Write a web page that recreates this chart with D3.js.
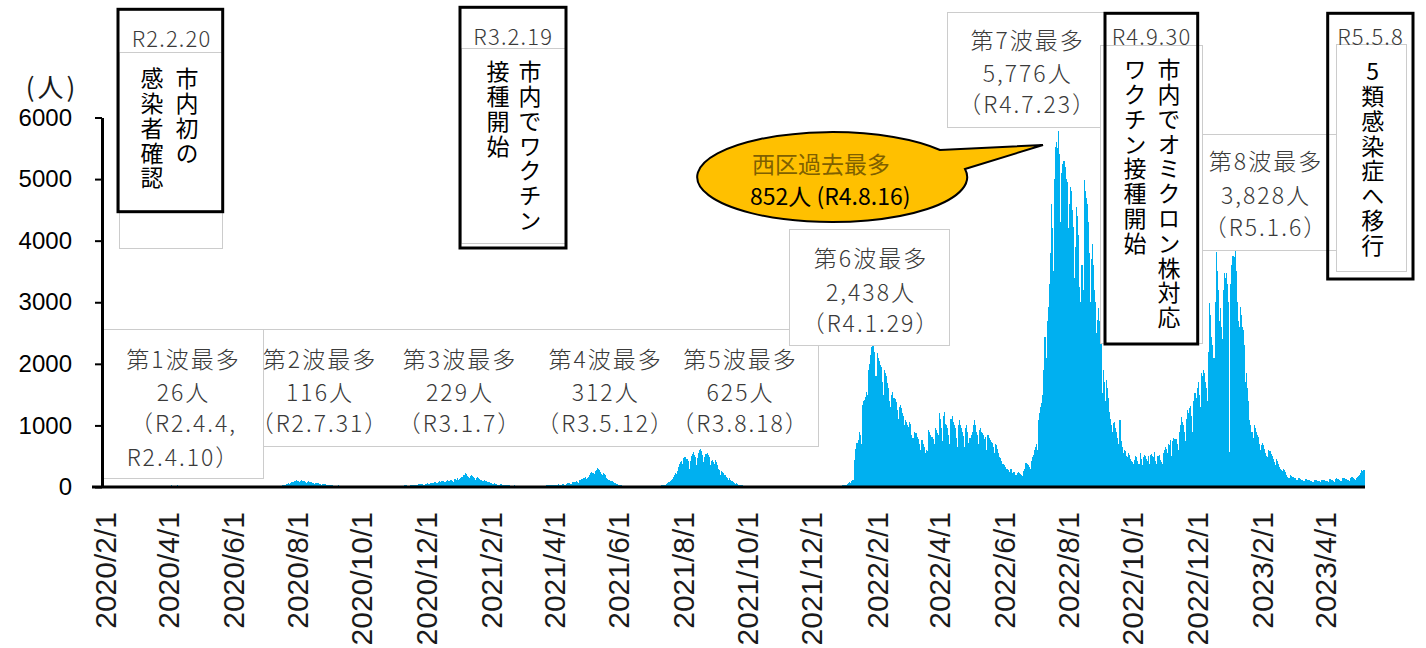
<!DOCTYPE html>
<html>

<head>
    <meta charset="utf-8">
    <style>
        body {
            margin: 0;
            background: #fff;
        }

        svg {
            display: block;
            font-family: 'Noto Sans CJK JP', 'Noto Sans', sans-serif;
        }

        .y .domain {
            stroke: #000;
            stroke-width: 3px;
        }

        .y .tick line {
            stroke: #000;
            stroke-width: 2px;
        }

        .y .tick text {
            font-family: 'Liberation Sans', Arial, sans-serif;
            font-size: 24px;
            fill: #000;
        }

        .x .domain {
            display: none;
        }

        .x .tick text {
            font-family: 'Liberation Sans', Arial, sans-serif;
            font-size: 30px;
            fill: #1a1a1a;
        }

        .wave text {
            font-size: 23px;
            font-weight: 300;
            fill: #3a3a3a;
            letter-spacing: 2px;
        }

        .event-date {
            font-size: 22px;
            font-weight: 300;
            fill: #3a3a3a;
            letter-spacing: 1.2px;
        }

        .event-col {
            font-size: 23px;
            fill: #000;
            writing-mode: vertical-rl;
            text-orientation: upright;
            letter-spacing: 1.8px;
        }
    </style>
</head>

<body>
    <svg width="1426" height="648"></svg>

    <script src="https://cdn.jsdelivr.net/npm/d3@7/dist/d3.min.js"></script>
    <script>
        // daily new cases, one array per year (each starts on its own first day)
        const daily2020 = [ // from 2020/2/1
            0,0,0,0,0,0,0,0,0,0, 0,0,0,0,0,0,0,0,0,1, 0,1,0,0,1,0,2,1,0,
            1,0,2,3,1,2,0,1,3,2, 1,0,2,4,3,1,2,5,3,2, 4,6,3,5,8,7,10,12,9,15, 14,
            18,20,22,26,15,20,24,19,22,26, 18,14,16,20,15,12,14,10,8,11, 9,7,6,8,5,4,6,3,2,4,
            3,2,1,2,0,1,1,0,2,1, 0,0,1,0,0,0,1,0,0,0, 0,1,0,0,0,0,1,0,2,1, 0,
            0,1,0,0,1,0,0,0,2,0, 1,0,0,0,1,0,0,2,1,0, 1,0,2,1,3,2,4,3,5,4,
            6,5,8,4,7,9,6,10,8,12, 9,11,15,14,18,22,20,26,30,28, 35,45,50,60,55,70,80,85,95,105, 116,
            100,90,85,95,110,105,98,92,80,70, 85,90,88,75,70,65,55,60,70,65, 58,50,45,40,52,55,48,42,38,35, 30,
            28,30,25,22,20,18,15,22,25,20, 18,15,12,14,18,20,16,13,10,9, 12,10,8,11,14,12,10,9,8,11,
            10,12,9,8,7,11,13,10,9,8, 6,10,12,14,11,9,8,7,12,15, 13,11,10,9,12,14,16,13,12,11, 10,
            12,10,14,18,20,16,15,13,17,22, 25,28,24,20,18,26,30,35,32,28, 25,30,40,48,55,50,45,42,38,50,
            55,60,48,52,65,70,58,62,75,80, 70,68,85,90,78,95,100,88,80,105, 110,95,90,120,115,100,85,130,125,110, 140
        ];
        const daily2021 = [
            120,135,150,170,190,200,229,210,185,160, 140,175,195,180,165,150,120,145,160,140, 125,110,95,105,120,100,90,80,85,75, 65,
            60,55,50,58,52,45,40,38,42,45, 40,35,30,28,25,30,32,28,24,20, 18,22,25,20,18,16,15,14,
            15,18,20,16,14,12,10,15,17,14, 12,18,20,16,13,15,18,22,20,17, 15,20,24,22,26,30,28,25,32,35, 30,
            35,30,28,40,45,38,32,36,42,48, 40,35,55,60,58,62,55,50,75,80, 85,90,78,70,110,120,130,125,140,150,
            155,130,145,170,200,220,240,230,210,260, 280,312,295,270,250,215,200,230,210,190, 150,130,110,120,100,90,80,65,60,55, 45,
            40,35,30,25,22,18,15,20,18,14, 12,10,9,12,14,11,8,7,10,12, 9,8,11,10,9,7,8,12,10,9,
            10,12,15,11,9,14,18,16,20,22, 18,25,30,35,32,40,45,60,80,95, 110,130,160,200,230,210,260,320,380,400, 420,
            380,470,490,480,450,420,300,430,500,540, 572,520,480,360,470,560,600,625,580,520, 400,480,530,550,520,480,360,420,440,410, 380,
            440,400,350,300,280,200,260,240,220,190, 170,150,110,140,120,100,90,80,65,55, 60,50,40,35,30,28,25,20,18,15,
            12,10,8,6,9,7,5,6,4,3, 5,6,4,3,2,4,5,3,2,3, 4,2,1,3,2,1,2,3,1,2, 1,
            1,0,2,1,0,1,2,0,1,0, 1,0,0,1,2,0,1,0,1,0, 0,1,0,0,1,2,0,1,0,1,
            1,0,2,1,0,3,1,2,0,1, 2,1,0,3,2,1,4,2,3,5, 2,4,6,5,8,10,12,15,20,28, 35
        ];
        const daily2022 = [
            25,30,35,50,60,80,70,90,110,113, 440,620,708,760,900,850,700,1330,1400,1420, 1465,1550,1500,1900,2000,2150,2275,2300,2438,2200, 1800,
            2180,2100,2050,1980,1950,1700,1500,1900,1850,1800, 1690,1600,1400,1300,1500,1550,1450,1430,1380,1250, 1100,1300,1330,1280,1200,1150,1000,1086,
            1050,1000,980,1060,1020,850,800,900,880,870, 820,780,700,600,760,762,700,650,546,600, 580,924,900,850,820,780,700,951,920,880, 850,
            1200,1100,950,750,1150,1220,1030,1000,950,850, 700,1100,1150,1050,1005,950,800,650,1000,1080, 1000,950,900,830,650,950,1000,900,708,800,
            850,900,1000,1086,1000,900,850,700,924,950, 900,880,850,780,816,600,850,800,760,730, 708,650,550,700,680,620,560,492,470,420, 380,
            380,350,330,300,280,250,300,290,222,250, 240,200,190,230,240,222,210,200,180,260, 300,384,370,350,330,300,420,492,520,600,
            650,700,600,1086,1200,1300,1357,1500,1900,2437, 2100,2700,2924,3300,3800,4600,4200,3500,5000,5520, 5600,5500,5776,5400,4300,5100,5248,5300,5200,5000, 4950,
            4200,4600,4870,4800,4500,4221,3400,3900,4545,4400, 4100,3248,3000,3600,3200,4978,4800,4700,4600,4300, 3800,3000,3700,3951,3600,3200,3000,2500,2708,2900, 2700,
            2500,1520,1900,1700,1400,1735,1600,1450,1220,1100, 1000,900,1035,1050,950,900,800,700,1090,750, 650,550,600,580,500,480,550,520,450,430,
            400,380,440,500,480,420,380,550,450,360, 480,520,500,450,420,500,380,520,540,500, 480,570,420,380,500,520,440,400,380,550, 600,
            650,620,550,700,680,760,500,750,800,780, 780,700,600,900,1000,1140,1050,1000,900,750, 1100,1250,1200,1280,1310,1150,900,1400,1520,1450,
            1600,1700,1500,1300,1850,1800,1900,1850,1700,1600, 1400,2200,2980,2800,2440,2300,2100,3000,3815,3500, 3200,2700,2900,2600,2400,3200,3470,3400,3470,3300, 3000
        ];
        const daily2023 = [ // to 2023/5/8
            570,3300,3600,3750,3740,3828,3500,3000,2700,2600, 2920,2800,2600,2545,2300,1700,1850,1600,1400,1090, 1000,900,800,1000,950,900,850,815,700,600, 680,
            710,680,620,560,500,490,600,580,540,500, 450,400,350,460,430,380,330,300,275,260, 300,280,240,200,165,150,190,180,
            170,160,150,140,120,110,150,145,130,120, 110,100,90,130,125,115,110,100,95,85, 80,120,115,110,105,100,90,80,110,120, 115,
            110,100,90,80,125,130,120,110,95,85, 130,140,135,125,115,105,90,140,150,145, 135,120,110,95,150,160,155,140,130,120,
            150,170,180,200,230,275,260,280
        ];
        const seriesStarts = ["2020-02-01", "2021-01-01", "2022-01-01", "2023-01-01"];
        const seriesValues = [daily2020, daily2021, daily2022, daily2023];

        const yTicks = [0, 1000, 2000, 3000, 4000, 5000, 6000];
        const xTickLabels = ["2020/2/1", "2020/4/1", "2020/6/1", "2020/8/1", "2020/10/1", "2020/12/1",
            "2021/2/1", "2021/4/1", "2021/6/1", "2021/8/1", "2021/10/1", "2021/12/1",
            "2022/2/1", "2022/4/1", "2022/6/1", "2022/8/1", "2022/10/1", "2022/12/1",
            "2023/2/1", "2023/4/1"];

        const waveLines = [
            ["第1波最多", "26人", "（R2.4.4,", "R2.4.10）"],
            ["第2波最多", "116人", "（R2.7.31）"],
            ["第3波最多", "229人", "（R3.1.7）"],
            ["第4波最多", "312人", "（R3.5.12）"],
            ["第5波最多", "625人", "（R3.8.18）"],
            ["第6波最多", "2,438人", "（R4.1.29）"],
            ["第7波最多", "5,776人", "（R4.7.23）"],
            ["第8波最多", "3,828人", "（R5.1.6）"]
        ];
        const eventDates = ["R2.2.20", "R3.2.19", "R4.9.30", "R5.5.8"];
        const eventTexts = [
            ["市内初の", "感染者確認"],
            ["市内でワクチン", "接種開始"],
            ["市内でオミクロン株対応", "ワクチン接種開始"],
            ["5類感染症へ移行"]
        ];
        const calloutLines = ["西区過去最多", "852人 (R4.8.16)"];
        const yTitle = "(人)";

        // ---------- setup
        let svg = d3.select("svg");
        let fmt = d3.timeFormat("%Y/%-m/%-d");
        let parse = d3.timeParse("%Y-%m-%d");

        let rows = [];
        seriesValues.forEach(function (vals, s) {
            let start = parse(seriesStarts[s]);
            vals.forEach(function (v, i) {
                rows.push({ key: fmt(d3.timeDay.offset(start, i)), value: v });
            });
        });

        let firstDay = parse("2020-02-01");
        let lastDay = parse("2023-05-08");
        let allDays = d3.timeDay.range(firstDay, d3.timeDay.offset(lastDay, 1)).map(fmt);

        let x = d3.scaleBand()
            .domain(allDays)
            .range([104.5, 1364.5])
            .padding(0);

        let y = d3.scaleLinear()
            .domain([0, 6000])
            .range([487, 117.5]);

        // bars
        svg.append("g")
            .selectAll("rect")
            .data(rows.filter(d => x(d.key) !== undefined))
            .join("rect")
            .attr("x", d => x(d.key))
            .attr("width", x.bandwidth())
            .attr("y", d => y(d.value))
            .attr("height", d => y(0) - y(d.value))
            .attr("fill", "#00b0f0")
            .attr("shape-rendering", "crispEdges");

        // ---------- white text boxes (gray border)
        let grayBoxes = [
            [103, 329, 818, 446],   // waves 1-5
            [103, 329, 263, 478],   // wave 1 (taller)
            [789, 229, 949, 345],   // wave 6
            [947, 12, 1105, 127],   // wave 7
            [1202, 134, 1336, 250], // wave 8
            [119, 52, 222, 248],    // event 1 text
            [461, 48, 565, 243],    // event 2 text
            [1100, 45, 1202, 343],  // event 3 text
            [1336, 44, 1406, 271]   // event 4 text
        ];
        svg.append("g")
            .selectAll("rect")
            .data(grayBoxes)
            .join("rect")
            .attr("x", d => d[0] + 0.5)
            .attr("y", d => d[1] + 0.5)
            .attr("width", d => d[2] - d[0])
            .attr("height", d => d[3] - d[1])
            .attr("fill", "#fff")
            .attr("stroke", "#cccccc")
            .attr("stroke-width", 1);

        // ---------- axes
        let yAxis = svg.append("g")
            .attr("class", "y axis")
            .attr("transform", "translate(102,0)")
            .call(d3.axisLeft(y)
                .tickValues(yTicks)
                .tickSize(7)
                .tickSizeOuter(0)
                .tickPadding(23)
                .tickFormat(d3.format("d")));

        let xAxis = svg.append("g")
            .attr("class", "x axis")
            .attr("transform", "translate(0,487)")
            .call(d3.axisBottom(x)
                .tickValues(xTickLabels)
                .tickSize(0)
                .tickSizeOuter(0));

        xAxis.selectAll(".tick text")
            .attr("transform", "rotate(-90)")
            .attr("x", -25)
            .attr("y", 0)
            .attr("dy", "0.36em")
            .attr("text-anchor", "end");

        svg.append("line")
            .attr("x1", 92)
            .attr("x2", 1365)
            .attr("y1", 487)
            .attr("y2", 487)
            .attr("stroke", "#000")
            .attr("stroke-width", 3);

        svg.append("text")
            .attr("x", 52)
            .attr("y", 85)
            .attr("dominant-baseline", "central")
            .attr("text-anchor", "middle")
            .attr("font-size", 26)
            .attr("letter-spacing", "3px")
            .attr("fill", "#1a1a1a")
            .text(yTitle);

        // ---------- wave labels
        let wavePos = [
            [182.5, [357.5, 390.7, 422, 455.7]],
            [319, [357.5, 390.7, 422]],
            [459, [357.5, 390.7, 422]],
            [604.7, [357.5, 390.7, 422]],
            [739.5, [357.5, 390.7, 422]],
            [870, [256.7, 290.7, 322.3]],
            [1026.7, [39, 72.3, 103.3]],
            [1265, [160, 194, 225.7]]
        ];
        let waveG = svg.append("g").attr("class", "wave");
        waveLines.forEach(function (lines, i) {
            lines.forEach(function (t, j) {
                waveG.append("text")
                    .attr("x", wavePos[i][0] + 1)
                    .attr("y", wavePos[i][1][j])
                    .attr("text-anchor", "middle")
                    .attr("dominant-baseline", "central")
                    .text(t);
            });
        });

        // ---------- event boxes (black frame, date on top, vertical text)
        let frames = [
            [118, 9.3, 222.7, 211.7],
            [460, 7.3, 566, 248],
            [1105, 13.3, 1197.7, 344],
            [1327.7, 13.3, 1413, 279]
        ];
        let dateCenters = [[171, 37], [512.7, 35], [1151, 35], [1370, 35]];
        let colX = [[187, 152], [530, 498], [1169, 1135], [1372.7]];
        let colTop = [67, 60, 58, 60];

        svg.append("g")
            .selectAll("rect")
            .data(frames)
            .join("rect")
            .attr("x", d => d[0])
            .attr("y", d => d[1])
            .attr("width", d => d[2] - d[0])
            .attr("height", d => d[3] - d[1])
            .attr("fill", "none")
            .attr("stroke", "#000")
            .attr("stroke-width", 3);

        let evG = svg.append("g");
        eventDates.forEach(function (t, i) {
            evG.append("text")
                .attr("class", "event-date")
                .attr("x", dateCenters[i][0] + 0.6)
                .attr("y", dateCenters[i][1])
                .attr("text-anchor", "middle")
                .attr("dominant-baseline", "central")
                .text(t);
            eventTexts[i].forEach(function (col, j) {
                evG.append("text")
                    .attr("class", "event-col")
                    .attr("x", colX[i][j])
                    .attr("y", colTop[i])
                    .text(col);
            });
        });

        // ---------- callout
        let co = svg.append("g");
        co.append("path")
            .attr("d", "M965,169 L1043,145 L940,150 A135,45 0 1 0 965,169 Z")
            .attr("fill", "#ffc000")
            .attr("stroke", "#000")
            .attr("stroke-width", 2);
        co.append("text")
            .attr("x", 752)
            .attr("y", 162.5)
            .attr("dominant-baseline", "central")
            .attr("font-size", 23)
            .attr("fill", "#7f6000")
            .text(calloutLines[0]);
        co.append("text")
            .attr("x", 750)
            .attr("y", 195)
            .attr("dominant-baseline", "central")
            .attr("font-size", 23)
            .attr("fill", "#000")
            .text(calloutLines[1]);
    </script>
</body>

</html>
